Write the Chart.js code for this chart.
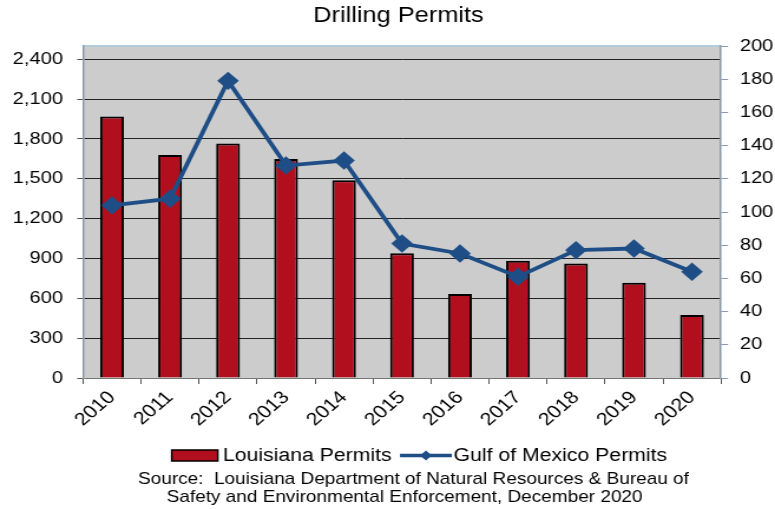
<!DOCTYPE html>
<html>
<head>
<meta charset="utf-8">
<script src="https://cdn.jsdelivr.net/npm/chart.js@4.4.1/dist/chart.umd.min.js"></script>
<style>
  html, body { margin: 0; padding: 0; background: #ffffff; }
  canvas { display: block; }
</style>
</head>
<body>
<!-- the source picture is stretched sideways, so the canvas is drawn narrower and widened by CSS -->
<canvas id="permits" width="657" height="509" style="width:775px;height:509px"></canvas>
<script>
// Categories and series
const years = ["2010", "2011", "2012", "2013", "2014", "2015", "2016", "2017", "2018", "2019", "2020"];
const louisianaPermits = [1970, 1680, 1765, 1650, 1490, 940, 632, 882, 862, 718, 475];
const gulfPermits = [104, 108, 179, 128, 131, 81, 75, 61, 77, 78, 64];

// Tick labels for both value axes
const leftTicks = [0, 300, 600, 900, 1200, 1500, 1800, 2100, 2400];
const rightTicks = [0, 20, 40, 60, 80, 100, 120, 140, 160, 180, 200];

const chartTitle = "Drilling Permits";
const sourceLines = [
    "Source:  Louisiana Department of Natural Resources & Bureau of",
    "Safety and Environmental Enforcement, December 2020",
];

const barRed = "#b20f1e";
const lineBlue = "#1f4e87";
const fontFamily = "'Liberation Sans', Arial, sans-serif";

// Gray plot background and light blue top edge
const plotBackground = {
    id: "plotBackground",
    beforeDraw(chart) {
        const { ctx, chartArea: a } = chart;
        ctx.save();
        ctx.fillStyle = "#cccccc";
        ctx.fillRect(a.left, a.top, a.right - a.left, a.bottom - a.top);
        ctx.strokeStyle = "#b4cbdc";
        ctx.lineWidth = 2;
        ctx.beginPath();
        ctx.moveTo(a.left, a.top);
        ctx.lineTo(a.right, a.top);
        ctx.stroke();
        ctx.restore();
    },
};

// Title over the plot, legend and source note under the axis
const titleLegendSource = {
    id: "titleLegendSource",
    afterDraw(chart) {
        const ctx = chart.ctx;
        const bars = chart.data.datasets.find((d) => d.type === "bar");
        const line = chart.data.datasets.find((d) => d.type === "line");
        ctx.save();
        ctx.textBaseline = "middle";
        ctx.fillStyle = "#000";

        // title, centred over the plot
        ctx.font = "21.5px " + fontFamily;
        ctx.textAlign = "center";
        ctx.fillText(chartTitle, (chart.chartArea.left + chart.chartArea.right) / 2 - 3, 16.5);

        // legend
        ctx.font = "18px " + fontFamily;
        ctx.textAlign = "left";
        const y = 455.5;
        let x = 145.6;
        ctx.fillStyle = barRed;
        ctx.fillRect(x, y - 5.5, 39, 11);
        ctx.strokeStyle = "#000";
        ctx.lineWidth = 1.5;
        ctx.strokeRect(x, y - 5.5, 39, 11);
        x += 43.4;
        ctx.fillStyle = "#000";
        ctx.fillText(bars.label, x, y + 0.5);
        x += ctx.measureText(bars.label).width + 7;
        ctx.strokeStyle = lineBlue;
        ctx.lineWidth = 3.5;
        ctx.beginPath();
        ctx.moveTo(x, y);
        ctx.lineTo(x + 44, y);
        ctx.stroke();
        ctx.fillStyle = lineBlue;
        ctx.beginPath();
        ctx.moveTo(x + 22, y - 5);
        ctx.lineTo(x + 27, y);
        ctx.lineTo(x + 22, y + 5);
        ctx.lineTo(x + 17, y);
        ctx.closePath();
        ctx.fill();
        x += 45.5;
        ctx.fillStyle = "#000";
        ctx.fillText(line.label, x, y + 0.5);

        // source note
        ctx.font = "16.1px " + fontFamily;
        ctx.textAlign = "center";
        ctx.fillText(sourceLines[0], 350.5, 480);
        ctx.fillText(sourceLines[1], 343, 497.5);
        ctx.restore();
    },
};

new Chart(document.getElementById("permits"), {
    data: {
        labels: years,
        datasets: [
            {
                type: "line",
                label: "Gulf of Mexico Permits",
                data: gulfPermits,
                yAxisID: "y1",
                borderColor: lineBlue,
                backgroundColor: lineBlue,
                borderWidth: 3.8,
                pointStyle: "rectRot",
                pointRadius: 6.5,
                pointHoverRadius: 6.5,
                tension: 0,
                order: 0,
            },
            {
                type: "bar",
                label: "Louisiana Permits",
                data: louisianaPermits,
                yAxisID: "y",
                backgroundColor: barRed,
                borderColor: "#000",
                borderWidth: 2,
                barPercentage: 0.41,
                categoryPercentage: 1,
                order: 1,
            },
        ],
    },
    plugins: [plotBackground, titleLegendSource],
    options: {
        responsive: false,
        animation: false,
        layout: { padding: { left: 0, right: 0, top: 46, bottom: 69 } },
        plugins: {
            legend: { display: false },
            tooltip: { enabled: false },
            title: { display: false },
        },
        scales: {
            x: {
                offset: true,
                grid: { offset: true, drawOnChartArea: false, tickLength: 6, color: "#555" },
                border: { color: "#777", width: 1 },
                ticks: {
                    color: "#000",
                    font: { family: fontFamily, size: 18 },
                    maxRotation: 45,
                    minRotation: 45,
                    padding: 3,
                },
                afterFit: (scale) => { scale.height = 62; },
            },
            y: {
                position: "left",
                min: 0,
                max: 2500,
                afterBuildTicks: (scale) => { scale.ticks = leftTicks.map((v) => ({ value: v })); },
                grid: { color: "#222", tickLength: 5, tickColor: "#555" },
                border: { color: "#8a9aaa", width: 1.5 },
                ticks: {
                    color: "#000",
                    font: { family: fontFamily, size: 17 },
                    padding: 12,
                    callback: (v) => v.toLocaleString("en-US"),
                },
                afterFit: (scale) => { scale.width = 70.4; },
            },
            y1: {
                position: "right",
                min: 0,
                max: 200,
                afterBuildTicks: (scale) => { scale.ticks = rightTicks.map((v) => ({ value: v })); },
                grid: { drawOnChartArea: false, tickLength: 6, color: "#8a9aaa" },
                border: { color: "#8a9aaa", width: 1.5 },
                ticks: {
                    color: "#000",
                    font: { family: fontFamily, size: 17 },
                    padding: 10,
                },
                afterFit: (scale) => { scale.width = 45.8; },
            },
        },
    },
});
</script>
</body>
</html>
